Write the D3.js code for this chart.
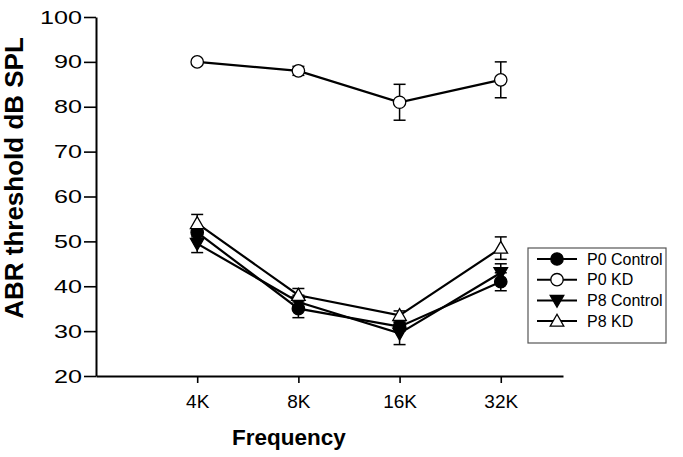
<!DOCTYPE html>
<html><head><meta charset="utf-8">
<script src="https://cdnjs.cloudflare.com/ajax/libs/d3/7.8.5/d3.min.js"></script>
<style>body{margin:0;background:#fff}svg{display:block}text{font-family:Arial,"Liberation Sans",sans-serif}</style>
</head><body><svg id="c" width="683" height="457"></svg>
<script>
const categories = ["4K","8K","16K","32K"];
const seriesNames = ["P0 Control","P0 KD","P8 Control","P8 KD"];
const p0Control = [52, 35, 31, 41];
const p0ControlErr = [1, 2, 1, 2];
const p0KD = [90, 88, 81, 86];
const p0KDErr = [0, 1, 4, 4];
const p8Control = [49.5, 36.5, 29.5, 43];
const p8ControlErr = [2, 1.5, 2.5, 2];
const p8KD = [54, 38, 33.5, 48.5];
const p8KDErr = [2, 1.5, 1, 2.5];
const yTicks = [20,30,40,50,60,70,80,90,100];

const series = [
  {name: seriesNames[0], v: p0Control, e: p0ControlErr, sym: "circle", fill: "#000"},
  {name: seriesNames[1], v: p0KD, e: p0KDErr, sym: "circle", fill: "#fff"},
  {name: seriesNames[2], v: p8Control, e: p8ControlErr, sym: "down", fill: "#000"},
  {name: seriesNames[3], v: p8KD, e: p8KDErr, sym: "up", fill: "#fff"}
];

const svg = d3.select("#c");
const x = d3.scaleLinear().domain([-1, 3.615]).range([96, 563]);
const y = d3.scaleLinear().domain([20, 100]).range([376, 17]);

// axes
const ya = svg.append("g").attr("transform","translate(96,0)")
  .call(d3.axisLeft(y).tickValues(yTicks).tickSize(12).tickPadding(2).tickSizeOuter(0));
const xa = svg.append("g").attr("transform","translate(0,376)")
  .call(d3.axisBottom(x).tickValues([0,1,2,3]).tickFormat(i => categories[i]).tickSize(7).tickPadding(12).tickSizeOuter(0));
[ya, xa].forEach(a => {
  a.select(".domain").attr("stroke","#000").attr("stroke-width",2);
  a.selectAll(".tick line").attr("stroke","#000").attr("stroke-width",1.6);
  a.selectAll(".tick text").attr("fill","#000").style("font-size","19px").style("font-family","Arial, 'Liberation Sans', sans-serif");
});
ya.selectAll(".tick text").each(function(d){
  const s = String(d);
  d3.select(this).attr("textLength", s.length * 14).attr("lengthAdjust","spacingAndGlyphs");
});

svg.append("text").attr("x",289).attr("y",445).attr("text-anchor","middle")
  .style("font-size","22.5px").style("font-weight","bold").text("Frequency");
svg.append("text").attr("transform","translate(23,178) rotate(-90)").attr("text-anchor","middle")
  .style("font-size","26px").style("font-weight","bold").text("ABR threshold dB SPL");

function drawSym(g, s, cx, cy) {
  if (s.sym === "circle") {
    g.append("circle").attr("cx",cx).attr("cy",cy).attr("r",6.2)
      .attr("fill",s.fill).attr("stroke","#000").attr("stroke-width",1.3);
  } else {
    const h = 6.8;
    const pts = s.sym === "up"
      ? [[cx, cy-h],[cx-h, cy+h*0.75],[cx+h, cy+h*0.75]]
      : [[cx, cy+h],[cx-h, cy-h*0.75],[cx+h, cy-h*0.75]];
    g.append("polygon").attr("points", pts.map(p=>p.join(",")).join(" "))
      .attr("fill",s.fill).attr("stroke","#000").attr("stroke-width",1.3);
  }
}

const line = d3.line().x((d,i)=>x(i)).y(d=>y(d));
series.forEach(s => {
  const g = svg.append("g");
  s.v.forEach((v,i) => {
    if (s.e[i] <= 0) return;
    const cx = x(i), t = y(v + s.e[i]), b = y(v - s.e[i]);
    g.append("line").attr("x1",cx).attr("x2",cx).attr("y1",t).attr("y2",b).attr("stroke","#000").attr("stroke-width",1.5);
    [t,b].forEach(yy => g.append("line").attr("x1",cx-6).attr("x2",cx+6).attr("y1",yy).attr("y2",yy).attr("stroke","#000").attr("stroke-width",1.5));
  });
  g.append("path").attr("d", line(s.v)).attr("fill","none").attr("stroke","#000").attr("stroke-width",2.2);
});
series.forEach(s => {
  const g = svg.append("g");
  s.v.forEach((v,i) => drawSym(g, s, x(i), y(v)));
});

// legend
const lg = svg.append("g");
lg.append("rect").attr("x",528).attr("y",248).attr("width",138).attr("height",95)
  .attr("fill","#fff").attr("stroke","#555").attr("stroke-width",1.2);
series.forEach((s,i) => {
  const yy = 259 + i*20.7;
  lg.append("line").attr("x1",537).attr("x2",577).attr("y1",yy).attr("y2",yy).attr("stroke","#000").attr("stroke-width",2);
  drawSym(lg, s, 557, yy);
  lg.append("text").attr("x",587).attr("y",yy).attr("dy","0.35em").style("font-size","16px").text(s.name);
});
</script></body></html>
